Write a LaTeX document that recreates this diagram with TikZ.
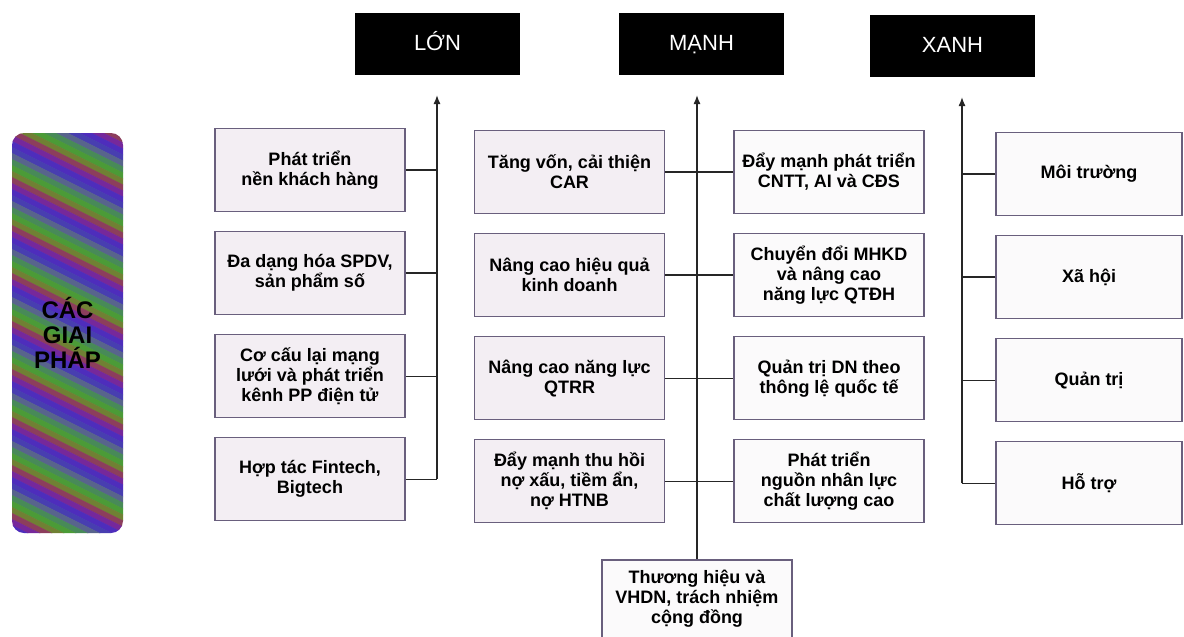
\documentclass[tikz,border=0pt]{standalone}
\usepackage{fontspec}
\setmainfont{Liberation Sans}
\usetikzlibrary{positioning, arrows.meta}
\definecolor{boxline}{RGB}{105,95,125}
\definecolor{boxfill}{RGB}{243,238,243}
\definecolor{boxpale}{RGB}{251,250,251}
\definecolor{sb0}{RGB}{75,155,55}
\definecolor{sb1}{RGB}{112,128,52}
\definecolor{sb2}{RGB}{140,62,92}
\definecolor{sb3}{RGB}{118,40,155}
\definecolor{sb4}{RGB}{78,45,188}
\definecolor{sb5}{RGB}{72,62,176}
\definecolor{sb6}{RGB}{88,100,140}
\definecolor{sb7}{RGB}{72,138,88}

\begin{document}
\begin{tikzpicture}[x=1pt, y=-1pt,
	head/.style={fill=black, text=white, minimum width=165pt, minimum height=62pt, text height=16pt, text depth=4pt, font=\fontsize{22}{24}\selectfont},
	sol/.style={draw=boxline, line width=1.1pt, fill=boxfill, minimum width=190pt, minimum height=83pt, inner sep=2pt, align=center, font=\fontsize{18}{20}\selectfont\bfseries},
	pale/.style={sol, fill=boxpale},
	link/.style={line width=1.4pt, draw=black!85},
	up/.style={link, -{Latex[length=9pt, width=7pt]}}]
	\fill[white] (0,0) rectangle (1184,637);
	\useasboundingbox (0,0) rectangle (1184,637);

	\begin{scope}
		\clip[rounded corners=12pt] (12,133) rectangle (123,533);
		\foreach \i in {0,...,80} {
			\pgfmathtruncatemacro\j{mod(\i,8)}
			\fill[sb\j] (10,\i*6+68) -- ++(116,58) -- ++(0,6.6) -- ++(-116,-58) -- cycle;
		}
	\end{scope}
	\node[minimum width=111pt, minimum height=400pt, align=center, font=\fontsize{24}{25}\selectfont\bfseries]
		(badge) at (67.5,333) {CÁC\\GIAI\\PHÁP};

	\node[head] (lon) at (437.5,44) {LỚN};
	\node[head] (manh) at (701.5,44) {MẠNH};
	\node[head] (xanh) at (952.5,46) {XANH};
	\coordinate (lontip) at (437,95);
	\coordinate (manhtip) at (697,95);
	\coordinate (xanhtip) at (962,97);

	\node[sol] (a1) at (310,170) {Phát triển\\nền khách hàng};
	\node[sol, below=19pt of a1] (a2) {Đa dạng hóa SPDV,\\sản phẩm số};
	\node[sol, below=19pt of a2] (a3) {Cơ cấu lại mạng\\lưới và phát triển\\kênh PP điện tử};
	\node[sol, below=19pt of a3] (a4) {Hợp tác Fintech,\\Bigtech};

	\node[sol] (b1) at (569.5,172) {Tăng vốn, cải thiện\\CAR};
	\node[sol, below=19pt of b1] (b2) {Nâng cao hiệu quả\\kinh doanh};
	\node[sol, below=19pt of b2] (b3) {Nâng cao năng lực\\QTRR};
	\node[sol, below=19pt of b3] (b4) {Đẩy mạnh thu hồi\\nợ xấu, tiềm ẩn,\\nợ HTNB};

	\node[pale] (c1) at (829,172) {Đẩy mạnh phát triển\\CNTT, AI và CĐS};
	\node[pale, below=19pt of c1] (c2) {Chuyển đổi MHKD\\và nâng cao\\năng lực QTĐH};
	\node[pale, below=19pt of c2] (c3) {Quản trị DN theo\\thông lệ quốc tế};
	\node[pale, below=19pt of c3] (c4) {Phát triển\\nguồn nhân lực\\chất lượng cao};

	\node[pale, minimum width=186pt] (d1) at (1089,174) {Môi trường};
	\node[pale, minimum width=186pt, below=19pt of d1] (d2) {Xã hội};
	\node[pale, minimum width=186pt, below=19pt of d2] (d3) {Quản trị};
	\node[pale, minimum width=186pt, below=19pt of d3] (d4) {Hỗ trợ};

	\node[pale, minimum height=78pt] (bot) at (697,599) {Thương hiệu và\\VHDN, trách nhiệm\\cộng đồng};

	\foreach \i in {1,...,4} \draw[link] (a\i.east) -- (a\i.east -| lontip);
	\draw[up] (a4.east -| lontip) -- (lontip);
	\foreach \i in {1,...,4} \draw[link] (b\i.east) -- (c\i.west);
	\draw[up] (bot.north) -- (manhtip);
	\foreach \i in {1,...,4} \draw[link] (d\i.west) -- (d\i.west -| xanhtip);
	\draw[up] (d4.west -| xanhtip) -- (xanhtip);
\end{tikzpicture}
\end{document}
